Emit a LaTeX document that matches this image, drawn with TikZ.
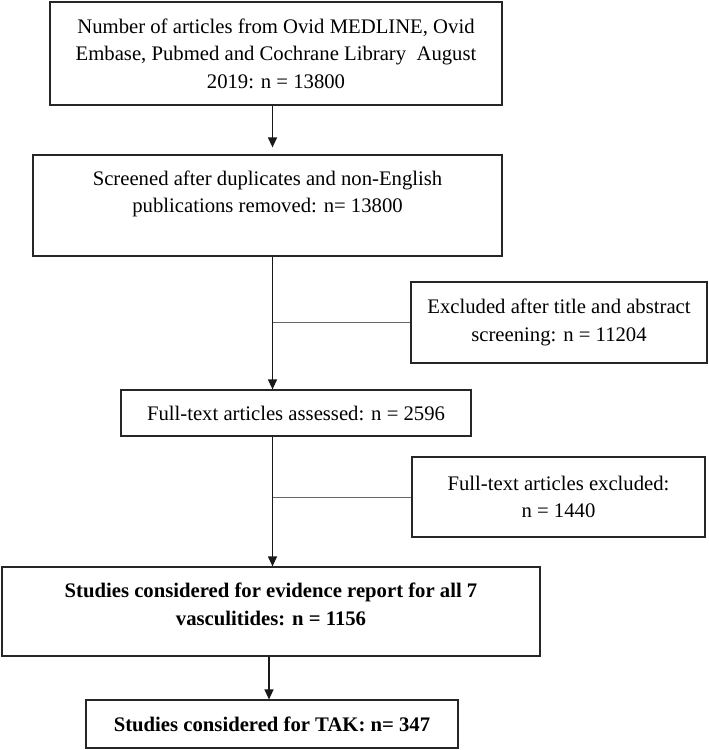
\documentclass[tikz,border=0pt]{standalone}
\usepackage{fontspec}
\setmainfont{Liberation Serif}
\usetikzlibrary{arrows.meta}
\begin{document}
\begin{tikzpicture}[x=1bp,y=-1bp,
  box/.style={draw=black!85, line width=1.2bp, inner sep=0pt, align=center,
    font=\fontsize{20.7bp}{27.5bp}\selectfont},
  boldbox/.style={box, font=\fontsize{20.7bp}{27.5bp}\selectfont\bfseries},
  arr/.style={draw=black!90, line width=1.2bp, -{Triangle[length=10bp,width=9bp]}},
  branch/.style={draw=black!60, line width=0.8bp}]
\useasboundingbox (0,0) rectangle (709,750);

\node[box, minimum width=452bp, minimum height=103bp] (A) at (276,53.5)
  {Number of articles from Ovid MEDLINE, Ovid\\Embase, Pubmed and Cochrane Library\ \ August\\2019: n = 13800};
\node[box, minimum width=469bp, minimum height=101bp] (B) at (267.5,205.5)
  {Screened after duplicates and non-English\\publications removed: n= 13800\\\mbox{}};
\node[box, minimum width=296bp, minimum height=81bp] (C) at (559,322.5)
  {Excluded after title and abstract\\screening: n = 11204};
\node[box, minimum width=350bp, minimum height=46bp] (D) at (296,413)
  {Full-text articles assessed: n = 2596};
\node[box, minimum width=293bp, minimum height=80bp] (E) at (558.5,497)
  {Full-text articles excluded:\\n = 1440};
\node[boldbox, minimum width=538bp, minimum height=89bp] (F) at (271,611.5)
  {Studies considered for evidence report for all 7\\vasculitides: n = 1156\\[-13bp]\mbox{}};
\node[boldbox, minimum width=372bp, minimum height=48bp] (G) at (272,724)
  {Studies considered for TAK: n= 347};

\coordinate (m) at (272.5,0);
\coordinate (m2) at (269,0);

\draw[arr] (m |- A.south) -- ([yshift=7bp]m |- B.north);
\draw[arr] (m |- B.south) -- (m |- D.north);
\draw[branch] (m |- C.west) -- (C.west);
\draw[arr] (m |- D.south) -- (m |- F.north);
\draw[branch] (m |- E.west) -- (E.west);
\draw[arr] (m2 |- F.south) -- (m2 |- G.north);
\end{tikzpicture}
\end{document}
